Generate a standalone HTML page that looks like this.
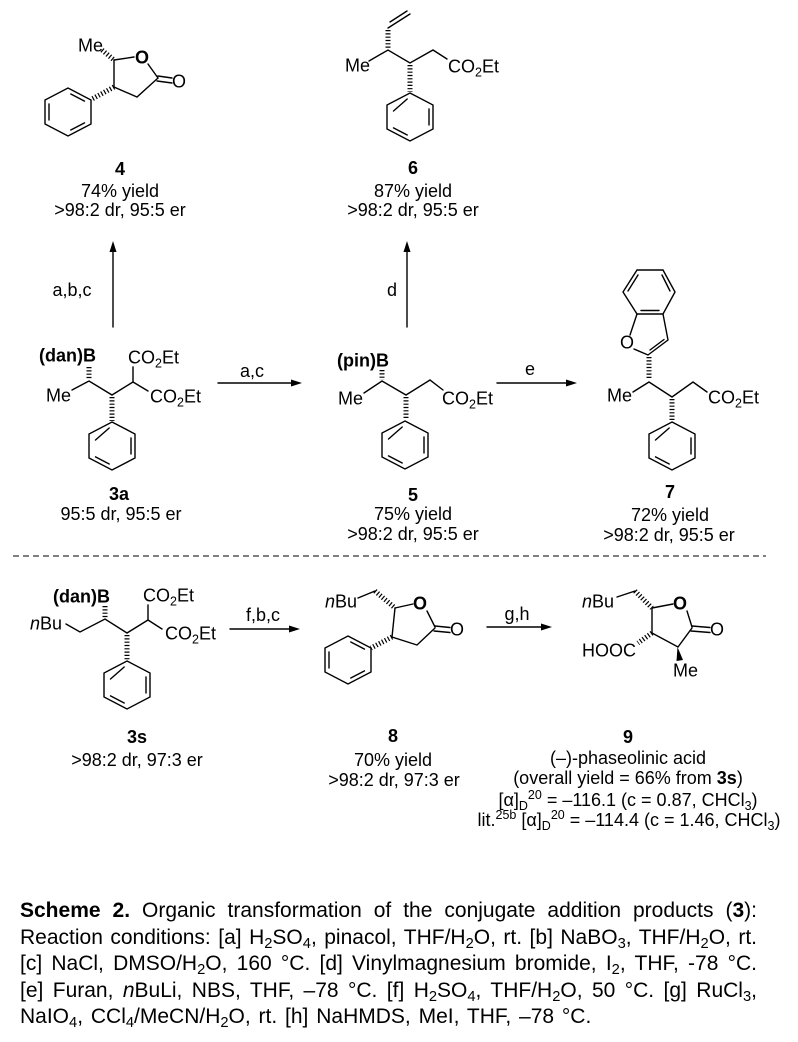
<!DOCTYPE html>
<html>
<head>
<meta charset="utf-8">
<style>
  html,body{margin:0;padding:0;background:#fff;}
  body{width:798px;height:1042px;position:relative;overflow:hidden;font-family:"Liberation Sans",Arial,sans-serif;color:#000;}
  svg{position:absolute;left:0;top:0;}
  svg text{font-family:"Liberation Sans",Arial,sans-serif;font-size:18px;fill:#000;}
  .b{stroke:#000;stroke-width:1.4;fill:none;stroke-linecap:round;}
  .h{stroke:#000;stroke-width:5;fill:none;stroke-dasharray:1.2 2.1;}
  .cap{position:absolute;left:20px;top:898px;width:737px;font-size:21px;line-height:26.6px;}
  .cap div{height:26.6px;text-align:justify;text-align-last:justify;}
  .cap div.last{text-align:left;text-align-last:left;word-spacing:2px;}
  .s{font-size:0.7em;position:relative;top:0.28em;}
</style>
</head>
<body>
<svg width="798" height="1042" viewBox="0 0 798 1042" xmlns="http://www.w3.org/2000/svg">
  <defs>
    <g id="phA">
      <polygon class="b" points="0,-24 23,-12 23,12 0,24 -23,12 -23,-12"/>
      <line class="b" x1="-16.5" y1="-6" x2="-2.8" y2="-18"/>
      <line class="b" x1="19" y1="-8" x2="19" y2="8"/>
      <line class="b" x1="-2.8" y1="18" x2="-16.5" y2="10.9"/>
    </g>
    <g id="phB">
      <polygon class="b" points="0,-24 23,-12 23,12 0,24 -23,12 -23,-12"/>
      <line class="b" x1="-19" y1="-8" x2="-19" y2="8"/>
      <line class="b" x1="2.8" y1="-18" x2="16.5" y2="-10.9"/>
      <line class="b" x1="16.5" y1="10.9" x2="2.8" y2="18"/>
    </g>
  </defs>

  <!-- ===== Compound 4 ===== -->
  <text x="78" y="51.5">Me</text>
  <line class="h" x1="102" y1="50" x2="114" y2="60"/>
  <polyline class="b" points="114,60 134,57"/>
  <text x="142" y="63.5" text-anchor="middle" font-weight="bold">O</text>
  <line class="b" x1="148" y1="64" x2="158" y2="78"/>
  <line class="b" x1="158" y1="76" x2="172" y2="78"/>
  <line class="b" x1="157" y1="81" x2="172" y2="83"/>
  <text x="179" y="87.5" text-anchor="middle">O</text>
  <polyline class="b" points="158,78 137,97 114,87 114,60"/>
  <line class="h" x1="114" y1="87" x2="92" y2="99"/>
  <use href="#phB" x="68" y="112"/>
  <text x="120" y="175" text-anchor="middle" font-weight="bold">4</text>
  <text x="120" y="197" text-anchor="middle">74% yield</text>
  <text x="120" y="216" text-anchor="middle">&gt;98:2 dr, 95:5 er</text>

  <!-- ===== Compound 6 ===== -->
  <line class="b" x1="388" y1="28" x2="410" y2="14"/>
  <line class="b" x1="390" y1="22" x2="407" y2="11"/>
  <line class="h" x1="388" y1="30" x2="388" y2="49"/>
  <text x="345" y="71.5">Me</text>
  <polyline class="b" points="369,61 388,50 410,63 433,50 447,59"/>
  <text x="448" y="72.5">CO<tspan font-size="12.5" dy="4">2</tspan><tspan dy="-4">Et</tspan></text>
  <line class="h" x1="410" y1="65" x2="410" y2="92"/>
  <use href="#phA" x="410" y="117"/>
  <text x="413" y="174" text-anchor="middle" font-weight="bold">6</text>
  <text x="413" y="197" text-anchor="middle">87% yield</text>
  <text x="413" y="216" text-anchor="middle">&gt;98:2 dr, 95:5 er</text>

  <!-- vertical arrows -->
  <line class="b" x1="113" y1="327" x2="113" y2="250"/>
  <polygon points="113,241 109.5,252 116.5,252" fill="#000"/>
  <text x="72" y="296" text-anchor="middle">a,b,c</text>
  <line class="b" x1="407" y1="327" x2="407" y2="250"/>
  <polygon points="407,241 403.5,252 410.5,252" fill="#000"/>
  <text x="392" y="296" text-anchor="middle">d</text>

  <!-- ===== Compound 3a ===== -->
  <text x="39" y="361.5" font-weight="bold">(dan)B</text>
  <line class="h" x1="89" y1="367" x2="89" y2="380"/>
  <text x="46" y="401.5">Me</text>
  <polyline class="b" points="72,390 89,381 112,395 133,382 148,391"/>
  <line class="b" x1="133" y1="382" x2="133" y2="367"/>
  <text x="128" y="363.5">CO<tspan font-size="12.5" dy="4">2</tspan><tspan dy="-4">Et</tspan></text>
  <text x="150" y="402.5">CO<tspan font-size="12.5" dy="4">2</tspan><tspan dy="-4">Et</tspan></text>
  <line class="h" x1="112" y1="397" x2="112" y2="421"/>
  <use href="#phA" x="112" y="446"/>
  <text x="119" y="500" text-anchor="middle" font-weight="bold">3a</text>
  <text x="121" y="520" text-anchor="middle">95:5 dr, 95:5 er</text>

  <!-- arrow a,c -->
  <line class="b" x1="218" y1="383" x2="293" y2="383"/>
  <polygon points="302,383 291,379.5 291,386.5" fill="#000"/>
  <text x="252" y="377" text-anchor="middle">a,c</text>

  <!-- ===== Compound 5 ===== -->
  <text x="337" y="366.5" font-weight="bold">(pin)B</text>
  <line class="h" x1="382" y1="370" x2="382" y2="380"/>
  <text x="338" y="404.5">Me</text>
  <polyline class="b" points="364,393 382,381 406,395 430,380 443,390"/>
  <text x="442" y="404.5">CO<tspan font-size="12.5" dy="4">2</tspan><tspan dy="-4">Et</tspan></text>
  <line class="h" x1="406" y1="397" x2="406" y2="420"/>
  <use href="#phA" x="405" y="445"/>
  <text x="413" y="501" text-anchor="middle" font-weight="bold">5</text>
  <text x="413" y="520" text-anchor="middle">75% yield</text>
  <text x="413" y="540" text-anchor="middle">&gt;98:2 dr, 95:5 er</text>

  <!-- arrow e -->
  <line class="b" x1="497" y1="383" x2="568" y2="383"/>
  <polygon points="577,383 566,379.5 566,386.5" fill="#000"/>
  <text x="530" y="375" text-anchor="middle">e</text>

  <!-- ===== Compound 7 ===== -->
  <polygon class="b" points="637,270 663,270 675,292 663,314 637,314 623,292"/>
  <line class="b" x1="628" y1="291" x2="638" y2="275"/>
  <line class="b" x1="662" y1="275" x2="670" y2="291"/>
  <line class="b" x1="641" y1="310.5" x2="659" y2="310.5"/>
  <line class="b" x1="637" y1="314" x2="630" y2="335"/>
  <text x="627" y="348.5" text-anchor="middle">O</text>
  <polyline class="b" points="634,349 648,355 668,340 663,314"/>
  <line class="b" x1="650" y1="350" x2="664" y2="339.5"/>
  <line class="h" x1="649" y1="357" x2="649" y2="380"/>
  <text x="607" y="401.5">Me</text>
  <polyline class="b" points="633,392 649,382 672,397 693,382 707,392"/>
  <text x="708" y="403.5">CO<tspan font-size="12.5" dy="4">2</tspan><tspan dy="-4">Et</tspan></text>
  <line class="h" x1="672" y1="399" x2="672" y2="421"/>
  <use href="#phA" x="672" y="446"/>
  <text x="670" y="498" text-anchor="middle" font-weight="bold">7</text>
  <text x="670" y="521" text-anchor="middle">72% yield</text>
  <text x="669" y="541" text-anchor="middle">&gt;98:2 dr, 95:5 er</text>

  <!-- dashed separator -->
  <line x1="13" y1="556" x2="766" y2="556" stroke="#000" stroke-width="1" stroke-dasharray="6 4"/>

  <!-- ===== Compound 3s ===== -->
  <text x="53" y="602.5" font-weight="bold">(dan)B</text>
  <line class="h" x1="105" y1="606" x2="105" y2="618"/>
  <text x="30" y="629.5"><tspan font-style="italic">n</tspan>Bu</text>
  <polyline class="b" points="66,624 80,632 105,619 127,633 148,620 162,629"/>
  <line class="b" x1="148" y1="620" x2="148" y2="605"/>
  <text x="143" y="601.5">CO<tspan font-size="12.5" dy="4">2</tspan><tspan dy="-4">Et</tspan></text>
  <text x="165" y="639.5">CO<tspan font-size="12.5" dy="4">2</tspan><tspan dy="-4">Et</tspan></text>
  <line class="h" x1="127" y1="635" x2="127" y2="660"/>
  <use href="#phA" x="127" y="685"/>
  <text x="137" y="743" text-anchor="middle" font-weight="bold">3s</text>
  <text x="137" y="766" text-anchor="middle">&gt;98:2 dr, 97:3 er</text>

  <!-- arrow f,b,c -->
  <line class="b" x1="230" y1="629" x2="291" y2="629"/>
  <polygon points="300,629 289,625.5 289,632.5" fill="#000"/>
  <text x="263" y="621" text-anchor="middle">f,b,c</text>

  <!-- ===== Compound 8 ===== -->
  <text x="325" y="607.5"><tspan font-style="italic">n</tspan>Bu</text>
  <line class="b" x1="358" y1="598" x2="375" y2="591"/>
  <line class="h" x1="375" y1="591" x2="395" y2="608"/>
  <line class="b" x1="395" y1="608" x2="413" y2="604"/>
  <text x="420" y="609.5" text-anchor="middle" font-weight="bold">O</text>
  <line class="b" x1="427" y1="611" x2="435" y2="627"/>
  <line class="b" x1="435" y1="626" x2="450" y2="627.5"/>
  <line class="b" x1="434" y1="631" x2="450" y2="632.5"/>
  <text x="457" y="635.5" text-anchor="middle">O</text>
  <polyline class="b" points="435,628 417,645 392,637 395,608"/>
  <line class="h" x1="392" y1="637" x2="371" y2="648"/>
  <use href="#phB" x="348" y="660"/>
  <text x="393" y="742" text-anchor="middle" font-weight="bold">8</text>
  <text x="393" y="766" text-anchor="middle">70% yield</text>
  <text x="394" y="786" text-anchor="middle">&gt;98:2 dr, 97:3 er</text>

  <!-- arrow g,h -->
  <line class="b" x1="487" y1="627" x2="543" y2="627"/>
  <polygon points="552,627 541,623.5 541,630.5" fill="#000"/>
  <text x="517" y="620" text-anchor="middle">g,h</text>

  <!-- ===== Compound 9 ===== -->
  <text x="582" y="607.5"><tspan font-style="italic">n</tspan>Bu</text>
  <line class="b" x1="617" y1="597" x2="635" y2="591"/>
  <line class="h" x1="635" y1="591" x2="652" y2="608"/>
  <line class="b" x1="652" y1="608" x2="673" y2="604"/>
  <text x="680" y="609.5" text-anchor="middle" font-weight="bold">O</text>
  <line class="b" x1="687" y1="611" x2="692" y2="627"/>
  <line class="b" x1="692" y1="626" x2="710" y2="627.5"/>
  <line class="b" x1="691" y1="631" x2="710" y2="632.5"/>
  <text x="717" y="635.5" text-anchor="middle">O</text>
  <polyline class="b" points="692,628 678,647 652,633 652,608"/>
  <line class="h" x1="652" y1="633" x2="638" y2="643"/>
  <text x="582" y="656.5">HOOC</text>
  <polygon points="677.5,647 676.5,661 683,660" fill="#000"/>
  <text x="673" y="676.5">Me</text>
  <text x="628" y="743" text-anchor="middle" font-weight="bold">9</text>
  <text x="628" y="764" text-anchor="middle">(–)-phaseolinic acid</text>
  <text x="628" y="784" text-anchor="middle">(overall yield = 66% from <tspan font-weight="bold">3s</tspan>)</text>
  <text x="628" y="806" text-anchor="middle">[α]<tspan font-size="12.5" dy="4">D</tspan><tspan font-size="12.5" dy="-11">20</tspan><tspan dy="7"> = –116.1 (c = 0.87, CHCl</tspan><tspan font-size="12.5" dy="4">3</tspan><tspan dy="-4">)</tspan></text>
  <text x="629" y="826" text-anchor="middle">lit.<tspan font-size="12.5" dy="-7">25b</tspan><tspan dy="7"> [α]</tspan><tspan font-size="12.5" dy="4">D</tspan><tspan font-size="12.5" dy="-11">20</tspan><tspan dy="7"> = –114.4 (c = 1.46, CHCl</tspan><tspan font-size="12.5" dy="4">3</tspan><tspan dy="-4">)</tspan></text>
</svg>

<div class="cap">
  <div><b>Scheme 2.</b> Organic transformation of the conjugate addition products (<b>3</b>):</div>
  <div>Reaction conditions: [a] H<span class="s">2</span>SO<span class="s">4</span>, pinacol, THF/H<span class="s">2</span>O, rt. [b] NaBO<span class="s">3</span>, THF/H<span class="s">2</span>O, rt.</div>
  <div>[c] NaCl, DMSO/H<span class="s">2</span>O, 160 °C. [d] Vinylmagnesium bromide, I<span class="s">2</span>, THF, -78 °C.</div>
  <div>[e] Furan, <i>n</i>BuLi, NBS, THF, –78 °C. [f] H<span class="s">2</span>SO<span class="s">4</span>, THF/H<span class="s">2</span>O, 50 °C. [g] RuCl<span class="s">3</span>,</div>
  <div class="last">NaIO<span class="s">4</span>, CCl<span class="s">4</span>/MeCN/H<span class="s">2</span>O, rt. [h] NaHMDS, MeI, THF, –78 °C.</div>
</div>
</body>
</html>
